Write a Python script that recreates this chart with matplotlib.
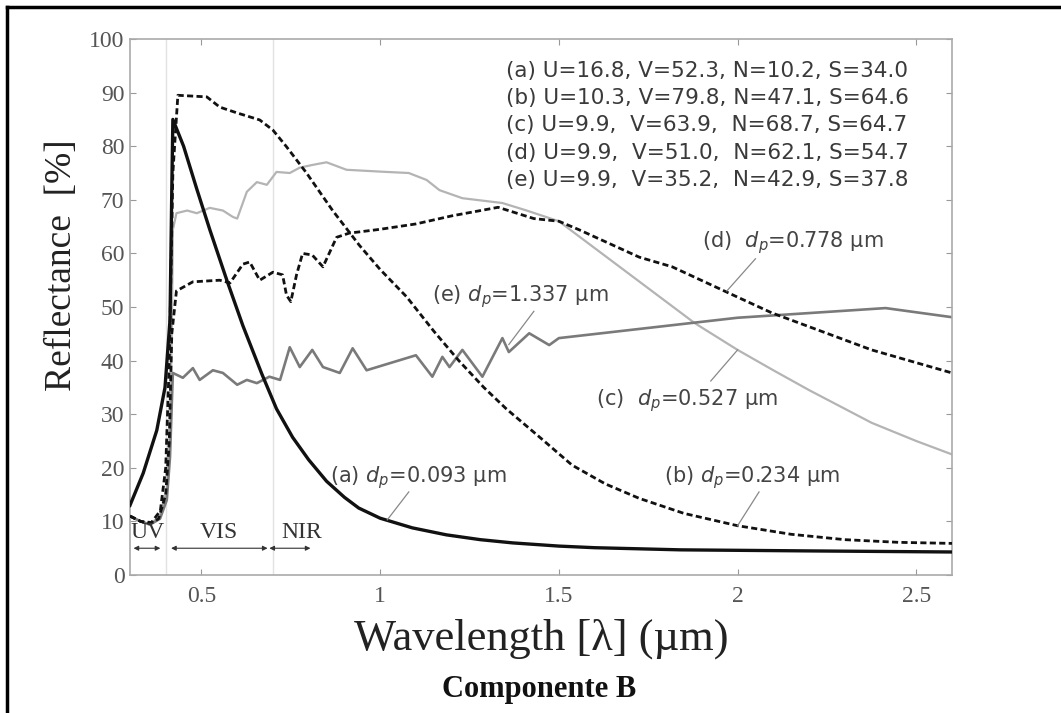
import matplotlib
matplotlib.use('Agg')
import matplotlib.pyplot as plt
from matplotlib.lines import Line2D

plt.rcParams['mathtext.fontset'] = 'custom'
plt.rcParams['mathtext.it'] = 'DejaVu Sans:italic'
plt.rcParams['mathtext.rm'] = 'DejaVu Sans'

# ---- data ----
a_x = [0.30, 0.337, 0.375, 0.398, 0.412, 0.417, 0.42, 0.45, 0.487, 0.523, 0.571, 0.616, 0.669,
       0.71, 0.755, 0.80, 0.85, 0.90, 0.94, 1.0, 1.09, 1.185, 1.28, 1.37, 1.5, 1.6, 1.84, 2.2, 2.6]
a_y = [13, 19, 27, 35, 47.6, 72, 85, 80, 72, 64.5, 55, 46.5, 37.5,
       31, 25.7, 21.5, 17.5, 14.5, 12.5, 10.6, 8.8, 7.5, 6.6, 6.0, 5.4, 5.1, 4.7, 4.5, 4.3]

b_x = [0.30, 0.33, 0.36, 0.385, 0.40, 0.41, 0.42, 0.434, 0.515, 0.551, 0.60, 0.663, 0.70,
       0.738, 0.794, 0.867, 0.942, 1.0, 1.074, 1.15, 1.22, 1.29, 1.353, 1.45, 1.537, 1.63,
       1.725, 1.85, 2.0, 2.15, 2.3, 2.45, 2.6]
b_y = [11, 10, 9.8, 12, 20, 40, 75, 89.5, 89.2, 87.3, 86.2, 84.9, 83,
       79.9, 75, 68, 61.5, 57, 51.9, 45.5, 40, 35, 31, 25.5, 20.5, 17,
       14.3, 11.5, 9.2, 7.6, 6.6, 6.1, 5.9]

c_x = [0.30, 0.33, 0.356, 0.384, 0.403, 0.412, 0.417, 0.42, 0.43, 0.46, 0.487, 0.523, 0.56,
       0.588, 0.60, 0.627, 0.655, 0.683, 0.71, 0.747, 0.775, 0.81, 0.85, 0.906, 1.018, 1.08,
       1.13, 1.166, 1.23, 1.342, 1.41, 1.5, 1.6, 1.7, 1.8, 1.88, 2.0, 2.1, 2.2, 2.375, 2.5, 2.6]
c_y = [11, 10, 9.5, 11, 16, 28, 45, 64.4, 67.5, 68, 67.5, 68.5, 68,
       66.8, 66.5, 71.5, 73.3, 72.8, 75.2, 75, 76, 76.5, 77, 75.6, 75.2, 75,
       73.7, 71.8, 70.3, 69.4, 68, 66, 61, 56, 51, 47, 42, 38.2, 34.5, 28.4, 25, 22.5]

d_x = [0.30, 0.33, 0.356, 0.38, 0.40, 0.41, 0.417, 0.43, 0.476, 0.551, 0.58, 0.616, 0.635,
       0.663, 0.70, 0.727, 0.738, 0.75, 0.766, 0.783, 0.81, 0.84, 0.878, 0.914, 0.94, 1.0,
       1.1, 1.2, 1.33, 1.43, 1.5, 1.557, 1.725, 1.817, 1.995, 2.096, 2.375, 2.6]
d_y = [11, 10, 9.6, 10.5, 15, 25, 45, 53, 54.7, 55, 54.5, 58, 58.4,
       55, 56.5, 56, 52.2, 51, 56, 60, 59.7, 57.5, 63, 63.8, 64, 64.5,
       65.5, 67, 68.6, 66.5, 66, 64.4, 59.3, 57.5, 52, 48.9, 42, 37.7]

e_x = [0.30, 0.33, 0.356, 0.384, 0.403, 0.412, 0.417, 0.42, 0.448, 0.476, 0.495, 0.532, 0.56,
       0.60, 0.627, 0.655, 0.69, 0.72, 0.747, 0.775, 0.81, 0.84, 0.887, 0.923, 0.962, 1.026,
       1.1, 1.146, 1.174, 1.194, 1.23, 1.286, 1.342, 1.36, 1.417, 1.473, 1.5, 2.0, 2.414, 2.6]
e_y = [11, 10, 9.4, 10.5, 14, 22, 32, 37.7, 36.8, 38.6, 36.4, 38.2, 37.7,
       35.5, 36.4, 35.8, 37, 36.4, 42.5, 38.8, 42, 38.8, 37.7, 42.3, 38.2, 39.5,
       41, 37, 40.7, 38.8, 42, 37, 44.2, 41.6, 45.1, 42.9, 44.2, 48, 49.8, 48.1]

legend_lines = ['(a) U=16.8, V=52.3, N=10.2, S=34.0',
                '(b) U=10.3, V=79.8, N=47.1, S=64.6',
                '(c) U=9.9,  V=63.9,  N=68.7, S=64.7',
                '(d) U=9.9,  V=51.0,  N=62.1, S=54.7',
                '(e) U=9.9,  V=35.2,  N=42.9, S=37.8']

# label text, text position, leader start, leader end (on curve)
labels = [
    (r'(a) $d_p$=0.093 µm', (0.859, 18.1), (1.08, 15.5), (1.02, 10.3)),
    (r'(b) $d_p$=0.234 µm', (1.794, 18.1), (2.06, 15.5), (2.0, 9.2)),
    (r'(c)  $d_p$=0.527 µm', (1.604, 32.6), (1.925, 36.2), (2.0, 42.0)),
    (r'(d)  $d_p$=0.778 µm', (1.9, 62.0), (2.05, 59.0), (1.97, 53.0)),
    (r'(e) $d_p$=1.337 µm', (1.146, 51.9), (1.43, 49.2), (1.36, 43.0)),
]

bands = [('UV', 0.31, 0.385), ('VIS', 0.415, 0.685), ('NIR', 0.69, 0.805)]
band_label_x = [0.35, 0.55, 0.78]
region_edges = [0.4, 0.7]

fig = plt.figure(figsize=(10.61, 7.13), dpi=100)
ax = fig.add_axes([0.1225, 0.1935, 0.7748, 0.7518])

for xe in region_edges:
    ax.axvline(xe, color='#e2e2e2', lw=1.0, zorder=0)

ax.plot(c_x, c_y, color='#b4b4b4', lw=1.6, zorder=2)
ax.plot(e_x, e_y, color='#7a7a7a', lw=1.9, zorder=2)
ax.plot(d_x, d_y, color='#111111', lw=2.0, ls=(0, (2.2, 1.2)), zorder=3)
ax.plot(b_x, b_y, color='#111111', lw=2.0, ls=(0, (2.2, 1.2)), zorder=3)
ax.plot(a_x, a_y, color='#111111', lw=2.4, zorder=4)

# UV / VIS / NIR bands
for (name, x0, x1), lx in zip(bands, band_label_x):
    ax.annotate('', xy=(x1, 5), xytext=(x0, 5),
                arrowprops=dict(arrowstyle='<|-|>', color='#333333', lw=0.8,
                                mutation_scale=7, shrinkA=0, shrinkB=0))
    ax.text(lx, 8.0, name, family='Liberation Serif', fontsize=17, color='#333333',
            ha='center', va='center')

for txt, (tx, ty), (sx, sy), (ex, ey) in labels:
    ax.text(tx, ty, txt, family='DejaVu Sans', fontsize=15, color='#444444',
            ha='left', va='center')
    ax.plot([sx, ex], [sy, ey], color='#888888', lw=0.9, zorder=5)

for i, line in enumerate(legend_lines):
    ax.text(0.458, 0.9405 - i * 0.0508, line, transform=ax.transAxes,
            family='DejaVu Sans', fontsize=15.5, color='#3a3a3a', ha='left', va='center')

ax.set_xlim(0.3, 2.6)
ax.set_ylim(0, 100)
ax.set_xticks([0.5, 1, 1.5, 2, 2.5])
ax.set_xticklabels(['0.5', '1', '1.5', '2', '2.5'])
ax.set_yticks(range(0, 101, 10))
ax.tick_params(direction='in', top=True, right=True, length=4, color='#999999',
               labelsize=17, labelcolor='#555555')
ax.tick_params(axis='x', pad=8)
ax.tick_params(axis='y', pad=4)
for lab in ax.get_xticklabels() + ax.get_yticklabels():
    lab.set_family('Liberation Serif')
for sp in ax.spines.values():
    sp.set_color('#aaaaaa')
    sp.set_linewidth(1.2)

ax.set_xlabel('Wavelength [λ] (µm)', family='Liberation Serif', fontsize=32, color='#222222')
ax.xaxis.set_label_coords(0.5, -0.082)
ax.set_ylabel('Reflectance  [%]', family='Liberation Serif', fontsize=27, color='#222222')
ax.yaxis.set_label_coords(-0.062, 0.578)

fig.text(0.508, 0.033, 'Componente B', family='Liberation Serif', fontsize=22,
         fontweight='bold', ha='center', va='center', color='#111111')

# outer frame (left and top edges)
fig.add_artist(Line2D([0.0066, 0.0066], [0, 0.9902], transform=fig.transFigure,
                      color='black', lw=2.5))
fig.add_artist(Line2D([0.0066, 1.0], [0.9902, 0.9902], transform=fig.transFigure,
                      color='black', lw=2.5))

fig.savefig('out.png', dpi=100, facecolor='white')
